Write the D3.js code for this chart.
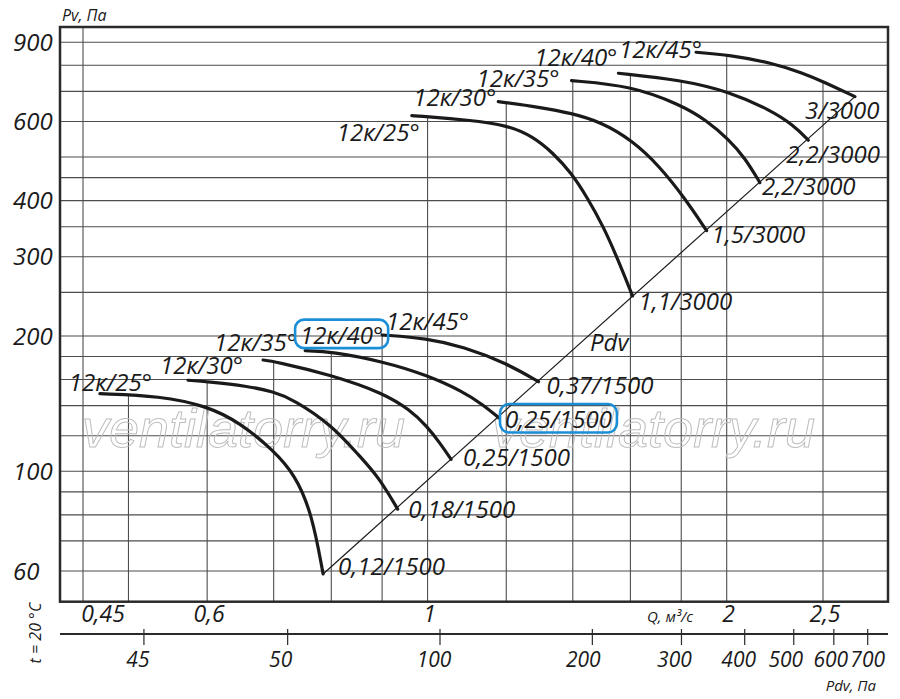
<!DOCTYPE html>
<html><head><meta charset="utf-8">
<script src="https://cdn.jsdelivr.net/npm/d3@7"></script>
<style>
body{margin:0;background:#fff}
svg{display:block}
text{font-family:"Open Sans",sans-serif;font-style:italic;font-weight:400;fill:#1a1a1a}
</style>
</head><body>
<svg id="chart" width="900" height="699"></svg>
<script>
// ---------- data ----------
const qTickValues = [0.45, 0.6, 1, 2, 2.5];
const qTickLabels = ["0,45", "0,6", "1", "2", "2,5"];
const qGridValues = [0.45, 0.5, 0.6, 0.7, 0.8, 0.9, 1, 1.2, 1.4, 1.6, 1.8, 2, 2.5];
const pTickValues = [60, 100, 200, 300, 400, 600, 900];
const pGridValues = [60, 70, 80, 90, 100, 120, 140, 160, 180, 200, 250, 300, 350, 400, 450, 500, 600, 700, 800, 900];
const pdvTickValues = [26, 50, 100, 200, 300, 400, 500, 600, 700];
const pdvTickLabels = ["45", "50", "100", "200", "300", "400", "500", "600", "700"];

const bladeLabels = ["12к/25°", "12к/30°", "12к/35°", "12к/40°", "12к/45°",
                     "12к/25°", "12к/30°", "12к/35°", "12к/40°", "12к/45°"];
const motorLabels = ["0,12/1500", "0,18/1500", "0,25/1500", "0,25/1500", "0,37/1500",
                     "1,1/3000", "1,5/3000", "2,2/3000", "2,2/3000", "3/3000"];
const curveQ = [
  [0.468, 0.538, 0.600, 0.648, 0.699, 0.736, 0.765, 0.785],
  [0.574, 0.600, 0.658, 0.700, 0.732, 0.801, 0.855, 0.892, 0.933],
  [0.683, 0.700, 0.801, 0.903, 0.960, 0.998, 1.029, 1.056],
  [0.753, 0.801, 0.903, 0.998, 1.086, 1.138, 1.180],
  [0.900, 0.998, 1.086, 1.201, 1.293],
  [0.964, 1.002, 1.095, 1.203, 1.277, 1.338, 1.396, 1.446, 1.503, 1.550, 1.608],
  [1.178, 1.298, 1.396, 1.491, 1.605, 1.713, 1.811, 1.909],
  [1.396, 1.602, 1.799, 1.906, 2.012, 2.086, 2.160],
  [1.556, 1.799, 2.012, 2.211, 2.334, 2.416],
  [1.863, 2.012, 2.228, 2.388, 2.501, 2.692]
];
const curveP = [
  [148.8, 147.1, 139.7, 128.1, 111.5, 98.1, 80.4, 59.1],
  [159.4, 158.2, 154.8, 150.3, 144.6, 126.8, 107.8, 97.3, 82.4],
  [176.8, 175.7, 163.7, 149.1, 136.9, 126.1, 115.6, 106.3],
  [185.5, 184.5, 175.3, 163.7, 150.3, 140.4, 131.4],
  [201.0, 197.6, 189.3, 173.9, 158.2],
  [618.1, 614.9, 604.6, 589.3, 555.1, 510.0, 460.3, 408.2, 350.1, 300.2, 245.5],
  [664.0, 645.3, 625.7, 599.4, 545.8, 476.1, 407.5, 343.0],
  [739.5, 720.8, 652.9, 604.6, 545.8, 497.8, 438.6],
  [768.1, 742.2, 699.0, 636.4, 589.3, 545.0],
  [855.2, 843.4, 808.6, 768.1, 735.7, 681.3]
];
const pdvLineQ = [0.785, 2.692];
const pdvLineP = [59.1, 681.3];
const pdvLabelQ = 1.457;
const highlightedCurve = 3;

// ---------- layout ----------
const frame = {left: 60, right: 888, top: 27, bottom: 601.7};
const x = d3.scaleLog().domain([0.45, 2.5]).range([83, 823]);
const y = d3.scaleLog().domain([60, 900]).range([571, 42.3]);
const xPdv = d3.scaleLog().domain([100, 700]).range([440, 867.7]);
const pdvAxisY = 634;
// label offsets (px) relative to curve start (blade) / curve end (motor)
const bladeOffset = [[52,-3],[55,-6],[34,-9.5],[78,-7],[87,-5],[8,25],[-2,4],[-12,6],[-1,-7],[6,6]];
const motorOffset = [[15,1],[10.6,9],[12,7],[6,10],[8,12.6],[6,14],[5,12.6],[2,12],[-22,23],[-50,22]];
const pdvLabelShift = [-6, -7, -6, -9, -7, -6, -8, -3, 0];

const svg = d3.select("#chart");
const ink = "#1a1a1a";

// curve helper: pixel y of curve i at flow q (null if outside)
function curveYAt(i, q) {
  const Q = curveQ[i], P = curveP[i];
  if (q < Q[0] - 1e-6 || q > Q[Q.length - 1] + 1e-6) return null;
  for (let j = 0; j < Q.length - 1; j++) {
    if (q <= Q[j + 1] + 1e-9) {
      const t = (x(q) - x(Q[j])) / (x(Q[j + 1]) - x(Q[j]));
      return y(P[j]) + t * (y(P[j + 1]) - y(P[j]));
    }
  }
  return y(P[P.length - 1]);
}

// ---------- grid ----------
const grid = svg.append("g").attr("stroke", "#4d4d4d").attr("stroke-width", 1.1);
grid.selectAll("line.h").data(pGridValues).join("line")
  .attr("x1", frame.left).attr("x2", frame.right)
  .attr("y1", d => y(d)).attr("y2", d => y(d));
grid.selectAll("line.v").data(qGridValues).join("line")
  .attr("x1", d => x(d)).attr("x2", d => x(d))
  .attr("y1", d => {
    let top = null;
    curveQ.forEach((_, i) => {
      const cy = curveYAt(i, d);
      if (cy !== null && (top === null || cy < top)) top = cy;
    });
    return top === null ? frame.top : top + 1;
  })
  .attr("y2", frame.bottom);

// ---------- watermark ----------
svg.append("g").selectAll("text").data([82, 492]).join("text")
  .attr("x", d => d).attr("y", 447)
  .style("font-family", '"Liberation Sans", Arial, sans-serif')
  .style("font-size", "54px").style("font-style", "italic").style("font-weight", "400")
  .style("fill", "none").attr("stroke", "#bdbdbd").attr("stroke-width", 1)
  .text("ventilatorry.ru");

// ---------- frame ----------
svg.append("rect")
  .attr("x", frame.left).attr("y", frame.top)
  .attr("width", frame.right - frame.left).attr("height", frame.bottom - frame.top)
  .attr("fill", "none").attr("stroke", "#2a2a2a").attr("stroke-width", 2.5);

// ---------- Pdv diagonal ----------
const line = d3.line().x(d => x(d[0])).y(d => y(d[1]));
svg.append("path")
  .attr("d", line(pdvLineQ.map((q, i) => [q, pdvLineP[i]])))
  .attr("fill", "none").attr("stroke", ink).attr("stroke-width", 1.2);

// ---------- curves ----------
const curveLine = d3.line().x(d => x(d[0])).y(d => y(d[1])).curve(d3.curveBasis);
svg.append("g").selectAll("path").data(curveQ).join("path")
  .attr("d", (Q, i) => curveLine(Q.map((q, j) => [q, curveP[i][j]])))
  .attr("fill", "none").attr("stroke", ink).attr("stroke-width", 3.2)
  .attr("stroke-linecap", "round");

// ---------- curve labels ----------
const labelSize = 24;
const blade = svg.append("g").selectAll("text").data(bladeLabels).join("text")
  .attr("x", (d, i) => x(curveQ[i][0]) + bladeOffset[i][0])
  .attr("y", (d, i) => y(curveP[i][0]) + bladeOffset[i][1])
  .attr("text-anchor", "end")
  .style("font-size", labelSize + "px")
  .text(d => d);
const motor = svg.append("g").selectAll("text").data(motorLabels).join("text")
  .attr("x", (d, i) => x(curveQ[i][curveQ[i].length - 1]) + motorOffset[i][0])
  .attr("y", (d, i) => y(curveP[i][curveP[i].length - 1]) + motorOffset[i][1])
  .style("font-size", labelSize + "px")
  .text(d => d);

// highlight boxes
[blade, motor].forEach(sel => {
  sel.filter((d, i) => i === highlightedCurve).each(function () {
    const b = this.getBBox();
    const base = +this.getAttribute("y");
    svg.append("rect")
      .attr("x", b.x - 5).attr("y", base - 24)
      .attr("width", b.width + 10).attr("height", 28.5)
      .attr("rx", 9).attr("ry", 9)
      .attr("fill", "none").attr("stroke", "#1a8ed6").attr("stroke-width", 2.6);
  });
});

// Pdv label on the diagonal
{
  const t = (Math.log(pdvLabelQ) - Math.log(pdvLineQ[0])) / (Math.log(pdvLineQ[1]) - Math.log(pdvLineQ[0]));
  const pAt = Math.exp(Math.log(pdvLineP[0]) + t * (Math.log(pdvLineP[1]) - Math.log(pdvLineP[0])));
  svg.append("text").attr("x", x(pdvLabelQ)).attr("y", y(pAt) + 17)
    .style("font-size", labelSize + "px").text("Pdv");
}

// ---------- axes text ----------
svg.append("g").selectAll("text").data(pTickValues).join("text")
  .attr("x", 13).attr("y", d => y(d)).attr("dy", "0.36em")
  .style("font-size", "24px").text(d => d);

svg.append("text").attr("x", 62).attr("y", 21).style("font-size", "16px").text("Pv, Па");

svg.append("g").selectAll("text").data(qTickValues).join("text")
  .attr("x", d => Math.max(x(d) + 2, frame.left + 43)).attr("y", 622)
  .attr("text-anchor", "middle").style("font-size", "23px")
  .text((d, i) => qTickLabels[i]);
svg.append("text").attr("x", 647).attr("y", 621.5).style("font-size", "15px").text("Q, м³/с");

// Pdv axis
svg.append("line").attr("x1", frame.left).attr("x2", frame.right)
  .attr("y1", pdvAxisY).attr("y2", pdvAxisY).attr("stroke", "#2a2a2a").attr("stroke-width", 2);
svg.append("g").selectAll("line").data(pdvTickValues).join("line")
  .attr("x1", d => xPdv(d)).attr("x2", d => xPdv(d))
  .attr("y1", pdvAxisY - 5).attr("y2", pdvAxisY + 11)
  .attr("stroke", "#2a2a2a").attr("stroke-width", 1.2);
svg.append("g").selectAll("text").data(pdvTickValues).join("text")
  .attr("x", (d, i) => xPdv(d) + pdvLabelShift[i]).attr("y", 667)
  .attr("text-anchor", "middle").style("font-size", "21px")
  .text((d, i) => pdvTickLabels[i]);
svg.append("text").attr("x", 876).attr("y", 691).attr("text-anchor", "end")
  .style("font-size", "15px").text("Pdv, Па");

svg.append("text").attr("transform", "translate(41,633) rotate(-90)")
  .attr("text-anchor", "middle").style("font-size", "16px").text("t = 20 °C");
</script>
</body></html>
